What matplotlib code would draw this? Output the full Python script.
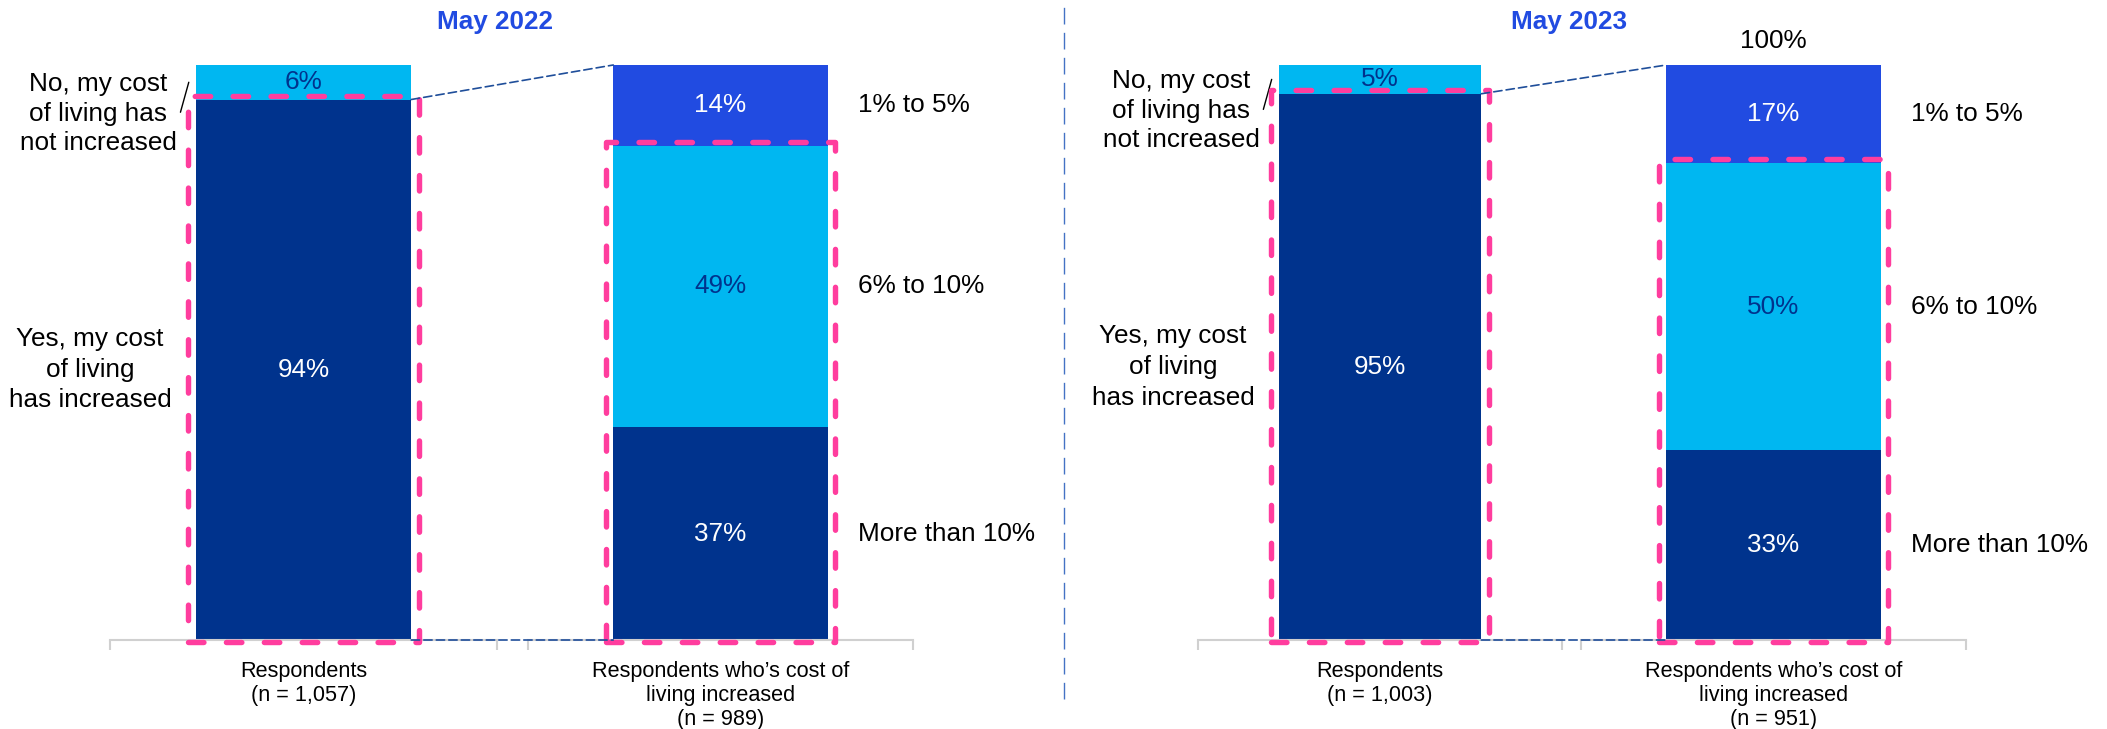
import matplotlib
matplotlib.use('Agg')
import matplotlib.pyplot as plt
from matplotlib.patches import Rectangle, ConnectionPatch
from matplotlib.lines import Line2D
from matplotlib.transforms import offset_copy

plt.rcParams['font.family'] = ['Liberation Sans', 'DejaVu Sans']

# Survey waves
waves = ['May 2022', 'May 2023']

# All respondents: has your cost of living increased?
yes_increased = [94, 95]
not_increased = [6, 5]
n_respondents = ['1,057', '1,003']

# Respondents whose cost of living increased: by how much
more_than_10 = [37, 33]
six_to_ten = [49, 50]
one_to_five = [14, 17]
n_increased = ['989', '951']

band_labels = ['More than 10%', '6% to 10%', '1% to 5%']
show_total = [False, True]

NAVY = '#00338D'
CYAN = '#00B7F1'
BLUE = '#214BE1'
PINK = '#FF3D9E'
LINK = '#1F4E9A'
AXIS = '#D0D0D0'

FS = 18.8
BAR_W = 0.557

W, H = 2107, 729
fig = plt.figure(figsize=(W / 100, H / 100), dpi=100)

# pixel layout of the sub-charts
BOTTOM_PX, TOP_PX = 640, 65
spans = [((110, 497), (528, 913)), ((1198, 1562), (1581, 1966))]
title_x = [495, 1569]


def make_ax(left, right, label):
    ax = fig.add_axes([left / W, (H - BOTTOM_PX) / H, (right - left) / W,
                       (BOTTOM_PX - TOP_PX) / H])
    ax.set_xlim(-0.5, 0.5)
    ax.set_ylim(0, 100)
    for s in ['top', 'right', 'left']:
        ax.spines[s].set_visible(False)
    ax.spines['bottom'].set_color(AXIS)
    ax.spines['bottom'].set_linewidth(1.5)
    ax.set_yticks([])
    ax.set_xticks([0])
    ax.set_xticklabels([label], fontsize=15.6, linespacing=1.18)
    ax.tick_params(axis='x', which='major', length=0, pad=15)
    ax.set_xticks([-0.5, 0.5], minor=True)
    ax.tick_params(axis='x', which='minor', length=7, width=1.5,
                   color=AXIS, direction='out')
    ax.patch.set_alpha(0)
    return ax


def px_to_data(ax, dx, dy):
    bb = ax.get_position()
    w_px = bb.width * W
    h_px = bb.height * H
    return dx * 1.0 / w_px, dy * 100.0 / h_px


def stack(ax, values, colors, text_colors):
    bottom = 0
    centers = []
    for v, c, tc in zip(values, colors, text_colors):
        ax.bar(0, v, BAR_W, bottom=bottom, color=c, zorder=2)
        ax.text(0, bottom + v / 2, f'{v}%', ha='center', va='center',
                color=tc, fontsize=FS, zorder=4)
        centers.append(bottom + v / 2)
        bottom += v
    return centers


def highlight(ax, height):
    dx, dy = px_to_data(ax, 7.5, 1)
    rect = Rectangle((-BAR_W / 2 - dx, -2 * dy), BAR_W + 2 * dx, height + 6 * dy,
                     fill=False, ec=PINK, lw=3.9, ls=(0, (2.85, 4.15)),
                     capstyle='round', joinstyle='round', clip_on=False, zorder=6)
    ax.add_patch(rect)


for i, wave in enumerate(waves):
    (a_l, a_r), (b_l, b_r) = spans[i]
    ax_a = make_ax(a_l, a_r, f'Respondents\n(n = {n_respondents[i]})')
    ax_b = make_ax(b_l, b_r, 'Respondents who\u2019s cost of\nliving increased\n'
                             f'(n = {n_increased[i]})')

    # left bar: did cost of living increase
    yes, no = yes_increased[i], not_increased[i]
    stack(ax_a, [yes, no], [NAVY, CYAN], ['white', NAVY])
    highlight(ax_a, yes)

    ax_a.annotate('Yes, my cost\nof living\nhas increased', xy=(-BAR_W / 2, yes / 2),
                  xytext=(-76, 0), textcoords='offset points', ha='center',
                  va='center', fontsize=FS, linespacing=1.35)
    ax_a.annotate('No, my cost\nof living has\nnot increased',
                  xy=(-BAR_W / 2, yes + no / 2), xytext=(-70, -22.5),
                  textcoords='offset points', ha='center', va='center',
                  fontsize=FS, linespacing=1.3)
    ax_a.annotate('', xy=(-BAR_W / 2, yes + no / 2),
                  xycoords=offset_copy(ax_a.transData, fig=fig, x=-5, y=0, units='points'),
                  xytext=(-6, -21.6), textcoords='offset points',
                  arrowprops=dict(arrowstyle='-', color='black', lw=1,
                                  shrinkA=0, shrinkB=0))

    # right bar: size of the increase
    bands = [more_than_10[i], six_to_ten[i], one_to_five[i]]
    centers = stack(ax_b, bands, [NAVY, CYAN, BLUE], ['white', NAVY, 'white'])
    highlight(ax_b, bands[0] + bands[1])
    for lbl, c in zip(band_labels, centers):
        ax_b.annotate(lbl, xy=(BAR_W / 2, c), xytext=(22, 0),
                      textcoords='offset points', ha='left', va='center',
                      fontsize=FS)
    if show_total[i]:
        ax_b.annotate(f'{sum(bands)}%', xy=(0, sum(bands)), xytext=(0, 17),
                      textcoords='offset points', ha='center', va='center',
                      fontsize=FS)

    # dashed links from the "yes" segment to the breakdown bar
    for ya, yb in [(yes, sum(bands)), (0, 0)]:
        con = ConnectionPatch(xyA=(BAR_W / 2, ya), coordsA=ax_a.transData,
                              xyB=(-BAR_W / 2, yb), coordsB=ax_b.transData,
                              color=LINK, lw=1.2, ls=(0, (5, 2.5)), zorder=3)
        fig.add_artist(con)

    fig.text(title_x[i] / W, 1 - 22 / H, wave, ha='center', va='center',
             color=BLUE, fontsize=FS, fontweight='bold')

# separator between the two waves
fig.add_artist(Line2D([1064 / W, 1064 / W], [1 - 699 / H, 1], transform=fig.transFigure,
                      color='#4472C4', lw=1, ls=(0, (12, 6))))

fig.savefig('out.png', dpi=100)
plt.close(fig)
